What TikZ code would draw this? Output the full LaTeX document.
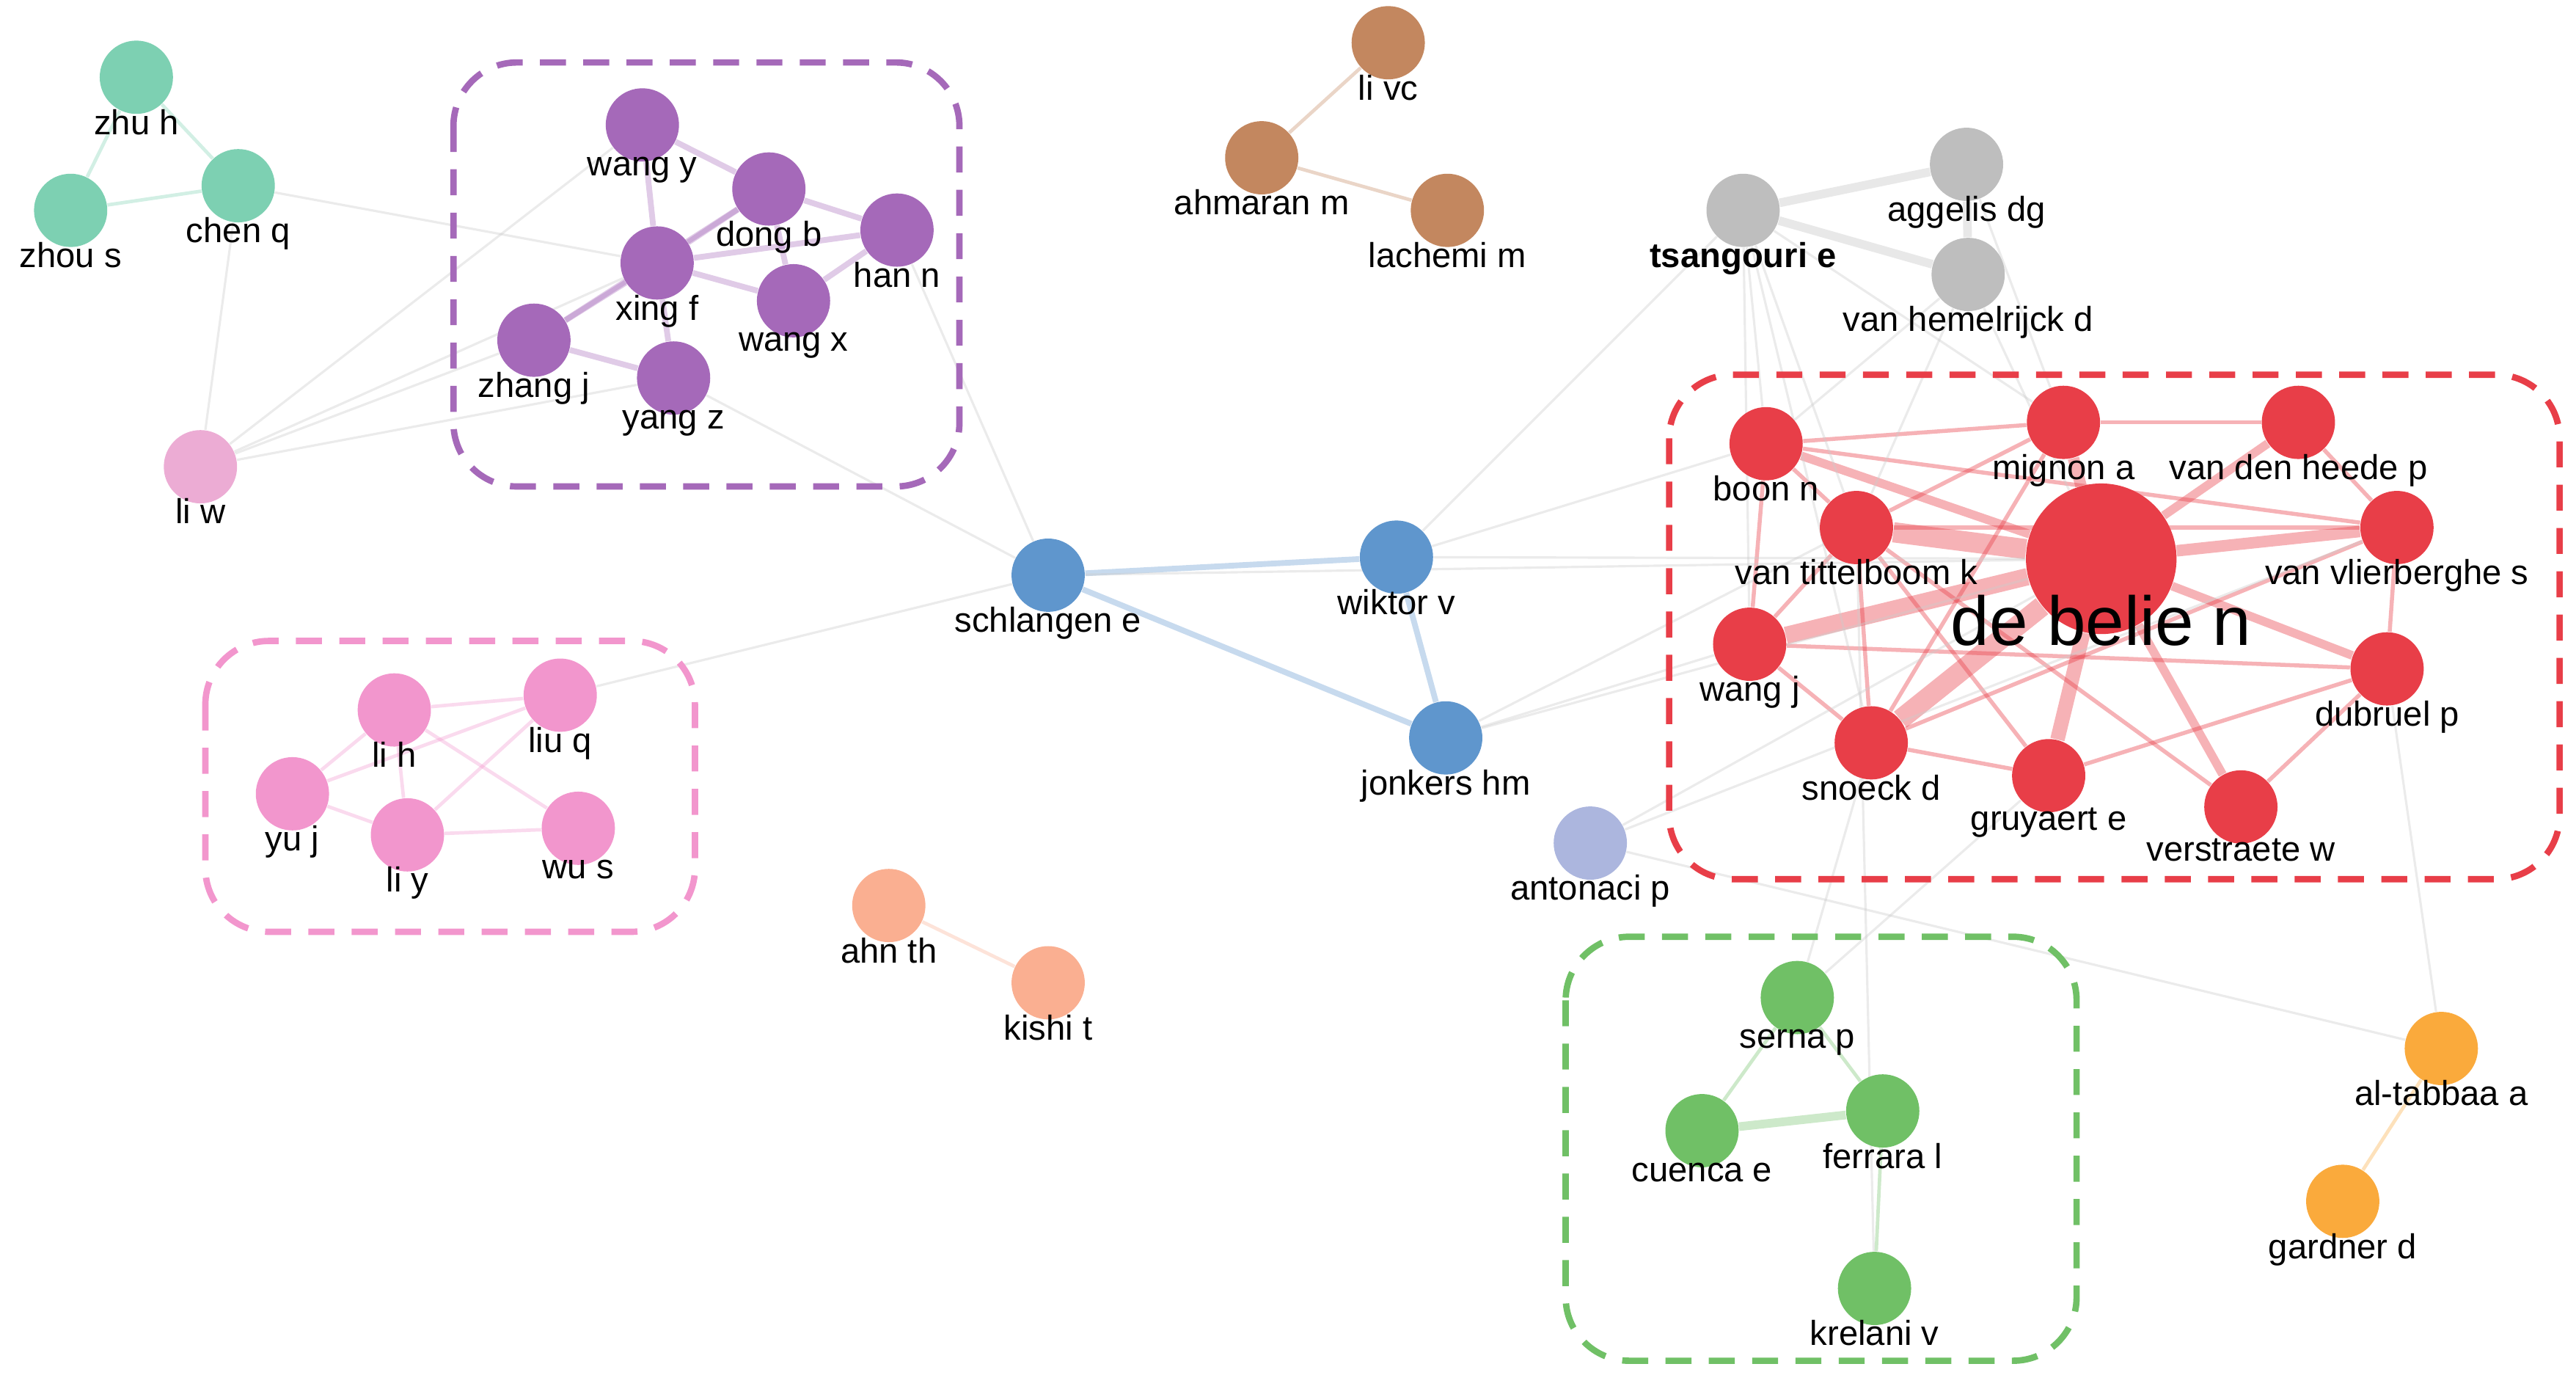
\documentclass[tikz,border=0pt]{standalone}
\usepackage{fontspec}
\setmainfont{Liberation Sans}
\usetikzlibrary{positioning,backgrounds}
\definecolor{cteal}{RGB}{125,208,178}
\definecolor{cpurple}{RGB}{165,105,185}
\definecolor{cpink}{RGB}{242,150,205}
\definecolor{cliw}{RGB}{236,172,212}
\definecolor{cbrown}{RGB}{195,135,95}
\definecolor{cgray}{RGB}{190,190,190}
\definecolor{cblue}{RGB}{95,150,205}
\definecolor{cpale}{RGB}{172,182,222}
\definecolor{csalmon}{RGB}{250,175,145}
\definecolor{cred}{RGB}{232,62,72}
\definecolor{cgreen}{RGB}{112,192,102}
\definecolor{corange}{RGB}{250,170,60}
\tikzset{
	au/.style    = {circle, fill=#1, inner sep=0pt, minimum size=36pt*0.705},
	lbl/.style   = {font=\fontsize{12}{14}\selectfont, inner sep=1pt},
	box/.style   = {draw=#1, dashed, line width=2.2pt, dash pattern=on 9pt off 6pt, rounded corners=22pt},
	link/.style  = {draw=#1, opacity=0.35, line width=1.2pt},
	faint/.style = {draw=gray!40, opacity=0.4, line width=0.8pt},
	hub/.style   = {draw=cred, opacity=0.4, line width=#1}
}
\begin{document}
\begin{tikzpicture}[x=0.02cm, y=-0.02cm]
	\useasboundingbox (0,0) rectangle (1568,843);
	% clusters
	\draw[box=cpurple] (276,38) rectangle (584,296);
	\draw[box=cpink] (125,390) rectangle (423,567);
	\draw[box=cred] (1016,228) rectangle (1558,535);
	\draw[box=cgreen] (953,570) rectangle (1264,828);
	
	\begin{scope}[every label/.style={lbl}, label distance=-3pt]
	\node[au=cteal, label=below:zhu h] (zhuh) at (83,47) {};
	\node[au=cteal, label=below:zhou s] (zhous) at (43,128) {};
	\node[au=cteal, label=below:chen q] (chenq) at (145,113) {};
	
	\node[au=cpurple, label=below:wang y] (wangy) at (391,76) {};
	\node[au=cpurple, label=below:dong b] (dongb) at (468,115) {};
	\node[au=cpurple, label=below:han n] (hann) at (546,140) {};
	\node[au=cpurple, label=below:xing f] (xingf) at (400,160) {};
	\node[au=cpurple, label=below:wang x] (wangx) at (483,183) {};
	\node[au=cpurple, label=below:zhang j] (zhangj) at (325,207) {};
	\node[au=cpurple, label=below:yang z] (yangz) at (410,230) {};
	
	\node[au=cliw, label=below:li w] (liw) at (122,284) {};
	
	\node[au=cpink, label=below:li h] (lih) at (240,432) {};
	\node[au=cpink, label=below:liu q] (liuq) at (341,423) {};
	\node[au=cpink, label=below:yu j] (yuj) at (178,483) {};
	\node[au=cpink, label=below:li y] (liy) at (248,508) {};
	\node[au=cpink, label=below:wu s] (wus) at (352,504) {};
	
	\node[au=cbrown, label=below:li vc] (livc) at (845,26) {};
	\node[au=cbrown, label=below:ahmaran m] (ahmaranm) at (768,96) {};
	\node[au=cbrown, label=below:lachemi m] (lachemim) at (881,128) {};
	
	\node[au=cgray, label={[font=\fontsize{12}{14}\selectfont\bfseries]below:tsangouri e}] (tsangourie) at (1061,128) {};
	\node[au=cgray, label=below:aggelis dg] (aggelisdg) at (1197,100) {};
	\node[au=cgray, label=below:van hemelrijck d] (vanhemelrijckd) at (1198,167) {};
	
	\node[au=cblue, label=below:schlangen e] (schlangene) at (638,350) {};
	\node[au=cblue, label=below:wiktor v] (wiktorv) at (850,339) {};
	\node[au=cblue, label=below:jonkers hm] (jonkershm) at (880,449) {};
	\node[au=cpale, label=below:antonaci p] (antonacip) at (968,513) {};
	
	\node[au=csalmon, label=below:ahn th] (ahnth) at (541,551) {};
	\node[au=csalmon, label=below:kishi t] (kishit) at (638,598) {};
	
	\node[au=cred, minimum size=74pt*0.705, label={[font=\fontsize{24}{28}\selectfont, yshift=12pt]below:de belie n}] (debelien) at (1279,340) {};
	\node[au=cred, label=below:boon n] (boonn) at (1075,270) {};
	\node[au=cred, label=below:mignon a] (mignona) at (1256,257) {};
	\node[au=cred, label=below:van den heede p] (vandenheedep) at (1399,257) {};
	\node[au=cred, label=below:van tittelboom k] (vantittelboomk) at (1130,321) {};
	\node[au=cred, label=below:van vlierberghe s] (vanvlierberghes) at (1459,321) {};
	\node[au=cred, label=below:wang j] (wangj) at (1065,392) {};
	\node[au=cred, label=below:dubruel p] (dubruelp) at (1453,407) {};
	\node[au=cred, label=below:snoeck d] (snoeckd) at (1139,452) {};
	\node[au=cred, label=below:gruyaert e] (gruyaerte) at (1247,472) {};
	\node[au=cred, label=below:verstraete w] (verstraetew) at (1364,491) {};
	
	\node[au=cgreen, label=below:serna p] (sernap) at (1094,607) {};
	\node[au=cgreen, label=below:cuenca e] (cuencae) at (1036,688) {};
	\node[au=cgreen, label=below:ferrara l] (ferraral) at (1146,676) {};
	\node[au=cgreen, label=below:krelani v] (krelaniv) at (1141,784) {};
	
	\node[au=corange, label=below:al-tabbaa a] (altabbaaa) at (1486,638) {};
	\node[au=corange, label=below:gardner d] (gardnerd) at (1426,731) {};
	\end{scope}
	
	\begin{scope}[on background layer]
	\foreach \a/\b in {zhuh/chenq, zhuh/zhous, zhous/chenq}
	\draw[link=cteal] (\a) -- (\b);
	\foreach \a/\b in {wangy/xingf, wangy/dongb, dongb/hann, xingf/hann, xingf/dongb, xingf/wangx, wangx/hann, xingf/zhangj, xingf/yangz, zhangj/dongb, zhangj/yangz, wangx/dongb}
	\draw[link=cpurple, line width=2pt] (\a) -- (\b);
	\foreach \a/\b in {lih/liuq, lih/yuj, lih/liy, yuj/liuq, liy/liuq, liy/wus, yuj/liy, lih/wus}
	\draw[link=cpink] (\a) -- (\b);
	\foreach \a/\b in {livc/ahmaranm, ahmaranm/lachemim}
	\draw[link=cbrown] (\a) -- (\b);
	\foreach \a/\b in {tsangourie/aggelisdg, tsangourie/vanhemelrijckd, aggelisdg/vanhemelrijckd}
	\draw[link=cgray, line width=3pt] (\a) -- (\b);
	\foreach \a/\b in {schlangene/wiktorv, schlangene/jonkershm, wiktorv/jonkershm}
	\draw[link=cblue, line width=2pt] (\a) -- (\b);
	\draw[link=csalmon] (ahnth) -- (kishit);
	\draw[link=corange] (altabbaaa) -- (gardnerd);
	\foreach \a/\b in {sernap/ferraral, ferraral/krelaniv, cuencae/sernap}
	\draw[link=cgreen] (\a) -- (\b);
	\draw[link=cgreen, line width=3pt] (cuencae) -- (ferraral);
	% de belie n hub
	\foreach \b/\w in {boonn/3, mignona/4, vandenheedep/3, vantittelboomk/7, vanvlierberghes/4, wangj/6, dubruelp/3, snoeckd/7, gruyaerte/5, verstraetew/3}
	\draw[hub=\w pt] (debelien) -- (\b);
	\foreach \a/\b in {boonn/mignona, boonn/vantittelboomk, boonn/wangj, mignona/vandenheedep, mignona/vantittelboomk, vandenheedep/vanvlierberghes, vanvlierberghes/dubruelp, vanvlierberghes/snoeckd, vantittelboomk/wangj, vantittelboomk/snoeckd, vantittelboomk/vanvlierberghes, wangj/snoeckd, wangj/dubruelp, snoeckd/gruyaerte, gruyaerte/dubruelp, gruyaerte/vantittelboomk, verstraetew/vantittelboomk, verstraetew/dubruelp, mignona/snoeckd, boonn/vanvlierberghes}
	\draw[hub=1.4pt] (\a) -- (\b);
	% faint links across clusters
	\foreach \a/\b in {chenq/liw, chenq/xingf, liw/zhangj, liw/xingf, liw/wangy, liw/yangz, hann/schlangene, yangz/schlangene, liuq/schlangene, schlangene/debelien, wiktorv/debelien, jonkershm/debelien, jonkershm/vantittelboomk, wiktorv/boonn, tsangourie/vantittelboomk, tsangourie/wangj, tsangourie/mignona, tsangourie/boonn, tsangourie/snoeckd, vanhemelrijckd/boonn, vanhemelrijckd/debelien, vanhemelrijckd/vantittelboomk, aggelisdg/mignona, antonacip/debelien, antonacip/altabbaaa, antonacip/vanvlierberghes, sernap/snoeckd, sernap/gruyaerte, krelaniv/vantittelboomk, altabbaaa/dubruelp, jonkershm/wangj, wiktorv/tsangourie}
	\draw[faint] (\a) -- (\b);
	\end{scope}
\end{tikzpicture}
\end{document}
